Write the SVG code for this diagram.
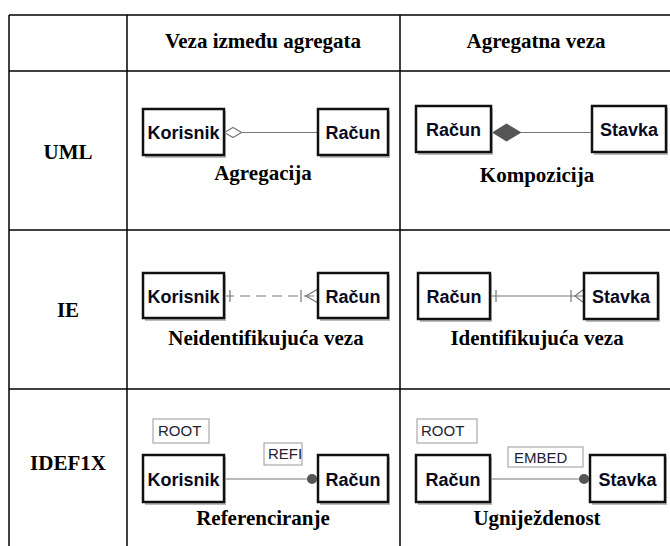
<svg xmlns="http://www.w3.org/2000/svg" width="670" height="546" viewBox="0 0 670 546">
<style>
.grid{stroke:#000;stroke-width:1.5;fill:none}
.hdr{font-family:"Liberation Serif",serif;font-weight:bold;font-size:21px;fill:#000;text-anchor:middle}
.cap{font-family:"Liberation Serif",serif;font-weight:bold;font-size:21px;fill:#000;text-anchor:middle}
.ent rect.b{fill:#fff;stroke:#111;stroke-width:2.5}
.ent rect.s{fill:#bbb}
.ent text{font-family:"Liberation Sans",sans-serif;font-weight:bold;font-size:18px;fill:#0a0a1e;text-anchor:middle}
.tag rect{fill:#fff;stroke:#999;stroke-width:1}
.tag text{font-family:"Liberation Sans",sans-serif;font-size:15px;fill:#223;}
.ln{stroke:#777;stroke-width:1.2;fill:none}
</style>
<g id="table">
<line class="grid" x1="9" y1="15" x2="670" y2="15"/>
<line class="grid" x1="9" y1="71" x2="670" y2="71"/>
<line class="grid" x1="9" y1="230" x2="670" y2="230"/>
<line class="grid" x1="9" y1="389" x2="670" y2="389"/>
<line class="grid" x1="9" y1="15" x2="9" y2="546"/>
<line class="grid" x1="127" y1="15" x2="127" y2="546"/>
<line class="grid" x1="400" y1="15" x2="400" y2="546"/>
</g>
<g id="headers">
<text class="hdr" x="263" y="48">Veza između agregata</text>
<text class="hdr" x="536" y="48">Agregatna veza</text>
<text class="hdr" x="68" y="159">UML</text>
<text class="hdr" x="68" y="317">IE</text>
<text class="hdr" x="68" y="470">IDEF1X</text>
</g>
<g id="connectors">
<line class="ln" x1="242" y1="132.5" x2="318" y2="132.5"/>
<polygon points="224.5,132.5 233,127.5 241.5,132.5 233,137.5" fill="#fff" stroke="#777" stroke-width="1.2"/>
<line class="ln" x1="521" y1="132.5" x2="592" y2="132.5"/>
<polygon points="492,132.5 506.5,123.5 521.5,132.5 506.5,141.5" fill="#555"/>
<line class="ln" x1="224" y1="296" x2="318" y2="296" stroke-dasharray="10,6"/>
<line class="ln" x1="230" y1="290" x2="230" y2="302"/>
<line class="ln" x1="301" y1="290" x2="301" y2="302"/>
<polyline class="ln" points="318,289 306,296 318,303"/>
<line class="ln" x1="490" y1="296" x2="584" y2="296"/>
<line class="ln" x1="496" y1="290" x2="496" y2="302"/>
<line class="ln" x1="571" y1="290" x2="571" y2="302"/>
<polyline class="ln" points="584,289 575,296 584,303"/>
<line class="ln" x1="224" y1="479" x2="318" y2="479"/>
<circle cx="312" cy="479" r="5" fill="#555"/>
<line class="ln" x1="492" y1="479" x2="590" y2="479"/>
<circle cx="584" cy="479" r="5" fill="#555"/>
</g>
<g id="uml-korisnik" class="ent"><rect class="s" x="145" y="111" width="81" height="47"/><rect class="b" x="143" y="109" width="81" height="46"/><text x="183.5" y="139">Korisnik</text></g>
<g id="uml-racun" class="ent"><rect class="s" x="320" y="111" width="70" height="47"/><rect class="b" x="318" y="109" width="70" height="46"/><text x="353" y="139">Račun</text></g>
<g id="uml-racun2" class="ent"><rect class="s" x="418" y="108" width="75" height="47"/><rect class="b" x="416" y="106" width="75" height="46"/><text x="453.5" y="136">Račun</text></g>
<g id="uml-stavka" class="ent"><rect class="s" x="594" y="108" width="74" height="47"/><rect class="b" x="592" y="106" width="74" height="46"/><text x="629" y="136">Stavka</text></g>
<text class="cap" x="263" y="180">Agregacija</text>
<text class="cap" x="537" y="182">Kompozicija</text>
<g id="ie-korisnik" class="ent"><rect class="s" x="145" y="275" width="81" height="46"/><rect class="b" x="143" y="273" width="81" height="45"/><text x="183.5" y="302.5">Korisnik</text></g>
<g id="ie-racun" class="ent"><rect class="s" x="320" y="275" width="70" height="46"/><rect class="b" x="318" y="273" width="70" height="45"/><text x="353" y="302.5">Račun</text></g>
<g id="ie-racun2" class="ent"><rect class="s" x="420" y="275" width="72" height="47"/><rect class="b" x="418" y="273" width="72" height="46"/><text x="454" y="302.5">Račun</text></g>
<g id="ie-stavka" class="ent"><rect class="s" x="586" y="275" width="74" height="47"/><rect class="b" x="584" y="273" width="74" height="46"/><text x="621" y="302.5">Stavka</text></g>
<text class="cap" x="266" y="345">Neidentifikujuća veza</text>
<text class="cap" x="537" y="345">Identifikujuća veza</text>
<g id="idef-root1" class="tag"><rect x="153" y="419" width="56" height="24"/><text x="158" y="436">ROOT</text></g>
<g id="idef-refi" class="tag"><rect x="264" y="443" width="38" height="22"/><text x="268" y="459">REFI</text></g>
<g id="idef-korisnik" class="ent"><rect class="s" x="145" y="457" width="81" height="48"/><rect class="b" x="143" y="455" width="81" height="47"/><text x="183.5" y="485.5">Korisnik</text></g>
<g id="idef-racun" class="ent"><rect class="s" x="320" y="457" width="70" height="48"/><rect class="b" x="318" y="455" width="70" height="47"/><text x="353" y="485.5">Račun</text></g>
<g id="idef-root2" class="tag"><rect x="417" y="419" width="60" height="24"/><text x="421" y="436">ROOT</text></g>
<g id="idef-embed" class="tag"><rect x="508" y="447" width="75" height="20"/><text x="514" y="463">EMBED</text></g>
<g id="idef-racun2" class="ent"><rect class="s" x="418" y="457" width="74" height="48"/><rect class="b" x="416" y="455" width="74" height="47"/><text x="453" y="485.5">Račun</text></g>
<g id="idef-stavka" class="ent"><rect class="s" x="592" y="457" width="75" height="48"/><rect class="b" x="590" y="455" width="75" height="47"/><text x="627.5" y="485.5">Stavka</text></g>
<text class="cap" x="263" y="525">Referenciranje</text>
<text class="cap" x="537" y="525">Ugniježdenost</text>
</svg>
